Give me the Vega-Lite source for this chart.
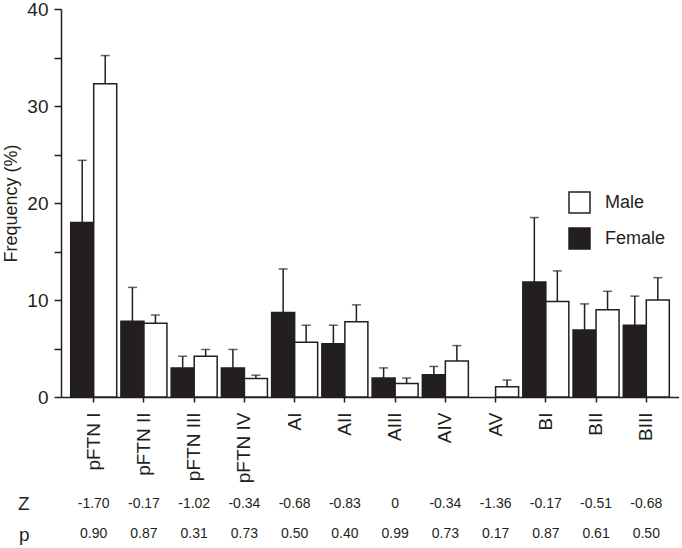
{
  "$schema": "https://vega.github.io/schema/vega-lite/v6.json",
  "padding": {"left": 2, "top": 0, "right": 0, "bottom": 0},
  "config": {
    "font": "Liberation Sans",
    "view": {"stroke": null},
    "axis": {"labelColor": "#231f20", "titleColor": "#231f20", "domainColor": "#231f20", "tickColor": "#231f20"}
  },
  "datasets": {
    "bars": [
      {"cat": "pFTN I", "sex": "Female", "value": 18.0, "upper": 24.4},
      {"cat": "pFTN I", "sex": "Male", "value": 32.3, "upper": 35.2},
      {"cat": "pFTN II", "sex": "Female", "value": 7.8, "upper": 11.3},
      {"cat": "pFTN II", "sex": "Male", "value": 7.6, "upper": 8.45},
      {"cat": "pFTN III", "sex": "Female", "value": 3.0, "upper": 4.2},
      {"cat": "pFTN III", "sex": "Male", "value": 4.2, "upper": 4.9},
      {"cat": "pFTN IV", "sex": "Female", "value": 3.0, "upper": 4.9},
      {"cat": "pFTN IV", "sex": "Male", "value": 1.9, "upper": 2.25},
      {"cat": "AI", "sex": "Female", "value": 8.7, "upper": 13.2},
      {"cat": "AI", "sex": "Male", "value": 5.65, "upper": 7.4},
      {"cat": "AII", "sex": "Female", "value": 5.5, "upper": 7.4},
      {"cat": "AII", "sex": "Male", "value": 7.75, "upper": 9.5},
      {"cat": "AIII", "sex": "Female", "value": 1.95, "upper": 3.0},
      {"cat": "AIII", "sex": "Male", "value": 1.4, "upper": 1.95},
      {"cat": "AIV", "sex": "Female", "value": 2.3, "upper": 3.15},
      {"cat": "AIV", "sex": "Male", "value": 3.7, "upper": 5.3},
      {"cat": "AV", "sex": "Female", "value": null, "upper": null},
      {"cat": "AV", "sex": "Male", "value": 1.05, "upper": 1.75},
      {"cat": "BI", "sex": "Female", "value": 11.85, "upper": 18.5},
      {"cat": "BI", "sex": "Male", "value": 9.85, "upper": 13.0},
      {"cat": "BII", "sex": "Female", "value": 6.9, "upper": 9.6},
      {"cat": "BII", "sex": "Male", "value": 9.0, "upper": 10.9},
      {"cat": "BIII", "sex": "Female", "value": 7.4, "upper": 10.4},
      {"cat": "BIII", "sex": "Male", "value": 10.0, "upper": 12.3}
    ],
    "stats": [
      {"cat": "pFTN I", "row": "Z", "text": "-1.70"},
      {"cat": "pFTN II", "row": "Z", "text": "-0.17"},
      {"cat": "pFTN III", "row": "Z", "text": "-1.02"},
      {"cat": "pFTN IV", "row": "Z", "text": "-0.34"},
      {"cat": "AI", "row": "Z", "text": "-0.68"},
      {"cat": "AII", "row": "Z", "text": "-0.83"},
      {"cat": "AIII", "row": "Z", "text": "0"},
      {"cat": "AIV", "row": "Z", "text": "-0.34"},
      {"cat": "AV", "row": "Z", "text": "-1.36"},
      {"cat": "BI", "row": "Z", "text": "-0.17"},
      {"cat": "BII", "row": "Z", "text": "-0.51"},
      {"cat": "BIII", "row": "Z", "text": "-0.68"},
      {"cat": "pFTN I", "row": "p", "text": "0.90"},
      {"cat": "pFTN II", "row": "p", "text": "0.87"},
      {"cat": "pFTN III", "row": "p", "text": "0.31"},
      {"cat": "pFTN IV", "row": "p", "text": "0.73"},
      {"cat": "AI", "row": "p", "text": "0.50"},
      {"cat": "AII", "row": "p", "text": "0.40"},
      {"cat": "AIII", "row": "p", "text": "0.99"},
      {"cat": "AIV", "row": "p", "text": "0.73"},
      {"cat": "AV", "row": "p", "text": "0.17"},
      {"cat": "BI", "row": "p", "text": "0.87"},
      {"cat": "BII", "row": "p", "text": "0.61"},
      {"cat": "BIII", "row": "p", "text": "0.50"}
    ]
  },
  "spacing": 11,
  "vconcat": [
    {
      "width": 618,
      "height": 388,
      "data": {"name": "bars"},
      "encoding": {
        "x": {
          "field": "cat", "type": "nominal", "sort": null,
          "scale": {"paddingInner": 0.084, "paddingOuter": 0.193},
          "axis": {"title": null, "labelAngle": -90, "labelFontSize": 19, "tickSize": 5, "labelPadding": 10, "domainWidth": 1.5, "tickWidth": 1.5}
        },
        "xOffset": {"field": "sex", "type": "nominal", "sort": ["Female", "Male"], "scale": {"paddingInner": 0, "paddingOuter": 0}}
      },
      "layer": [
        {
          "mark": {"type": "bar", "stroke": "#231f20", "strokeWidth": 1.5},
          "encoding": {
            "y": {
              "field": "value", "type": "quantitative",
              "scale": {"domain": [0, 40], "nice": false},
              "axis": {
                "title": "Frequency (%)", "titleFontSize": 18, "titleFontWeight": "normal", "titlePadding": 6,
                "labelFontSize": 19, "labelPadding": 6, "grid": false,
                "values": [0, 2.5, 5, 7.5, 10, 12.5, 15, 17.5, 20, 22.5, 25, 27.5, 30, 32.5, 35, 37.5, 40],
                "labelExpr": "datum.value % 10 === 0 ? datum.label : ''",
                "tickSize": {"condition": {"test": "datum.value % 5 === 0", "value": 7}, "value": 4},
                "domainWidth": 1.5, "tickWidth": 1.5
              }
            },
            "fill": {
              "field": "sex", "type": "nominal",
              "scale": {"domain": ["Male", "Female"], "range": ["#ffffff", "#231f20"]},
              "legend": {
                "title": null, "orient": "none", "legendX": 507, "legendY": 182,
                "symbolType": "square", "symbolSize": 440, "symbolStrokeColor": "#231f20", "symbolStrokeWidth": 1.5,
                "labelFontSize": 18, "labelColor": "#231f20", "labelOffset": 14, "rowPadding": 9, "padding": 0
              }
            }
          }
        },
        {
          "transform": [{"filter": "datum.upper != null"}],
          "mark": {"type": "rule", "color": "#231f20", "strokeWidth": 1.5},
          "encoding": {
            "y": {"field": "value", "type": "quantitative"},
            "y2": {"field": "upper"}
          }
        },
        {
          "transform": [{"filter": "datum.upper != null"}],
          "mark": {"type": "tick", "color": "#231f20", "thickness": 1.5, "size": 9, "orient": "horizontal"},
          "encoding": {
            "y": {"field": "upper", "type": "quantitative"}
          }
        }
      ]
    },
    {
      "width": 618,
      "height": 46,
      "data": {"name": "stats"},
      "mark": {"type": "text", "fontSize": 14, "color": "#231f20"},
      "encoding": {
        "x": {
          "field": "cat", "type": "nominal", "sort": ["pFTN I", "pFTN II", "pFTN III", "pFTN IV", "AI", "AII", "AIII", "AIV", "AV", "BI", "BII", "BIII"],
          "scale": {"type": "band", "paddingInner": 0.084, "paddingOuter": 0.193},
          "axis": null
        },
        "y": {
          "field": "row", "type": "nominal", "sort": ["Z", "p"],
          "scale": {"type": "point", "padding": 0.25},
          "axis": {"title": null, "domain": false, "ticks": false, "tickSize": 0, "labelPadding": 32, "labelFontSize": 19}
        },
        "text": {"field": "text"}
      }
    }
  ]
}
